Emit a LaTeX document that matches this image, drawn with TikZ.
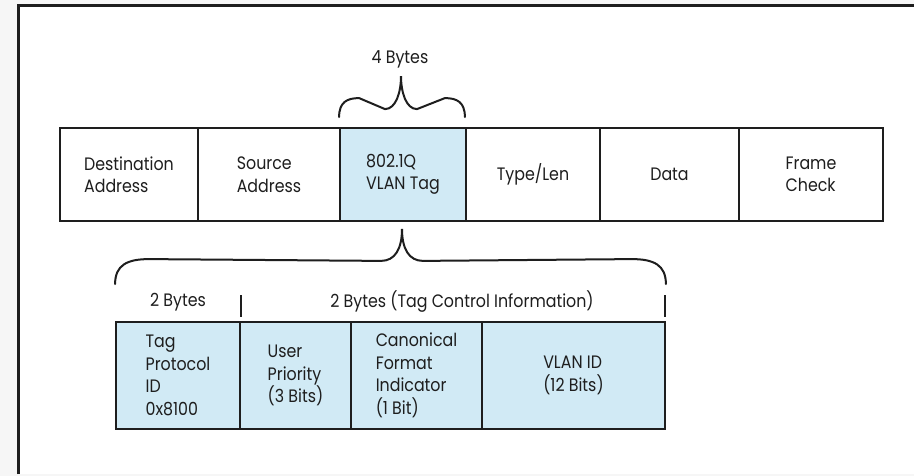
\documentclass[tikz,border=0pt]{standalone}
\usepackage{fontspec}
\setmainfont{Poppins}[FakeStretch=0.88]
\usetikzlibrary{calc}
\definecolor{tagblue}{RGB}{209,234,245}
\definecolor{ink}{RGB}{30,30,30}
\definecolor{bggray}{RGB}{246,246,246}
\begin{document}
\begin{tikzpicture}[x=1pt,y=-1pt,
  cell/.style={draw=ink, line width=1.8pt, align=left, font=\fontsize{18}{22.5}\selectfont, text=ink, inner sep=0pt, anchor=center},
  toprow/.style={cell, minimum height=93pt},
  botrow/.style={cell, minimum height=107pt, fill=tagblue},
  brace/.style={draw=ink, line width=2pt, line cap=round},
  lbl/.style={font=\fontsize{18}{22}\selectfont, text=ink, inner sep=0pt},
  tick/.style={draw=ink, line width=2pt}]
\useasboundingbox (0,0) rectangle (914,476);
\fill[bggray] (0,0) rectangle (914,476);
\fill[white] (18,6) rectangle (914,474);
\draw[ink, line width=3pt] (18,474) -- (18,6) -- (914,6);

% top row
\node[toprow, minimum width=138pt] (dst) at (129,174.5) {Destination\\Address};
\node[toprow, minimum width=142pt] (src) at (269,174.5) {Source\\Address};
\node[toprow, minimum width=126pt, fill=tagblue] (tag) at (403,174.5) {802.1Q\\VLAN Tag};
\node[toprow, minimum width=134pt] (typ) at (533,174.5) {Type/Len};
\node[toprow, minimum width=139pt] (dat) at (669.5,174.5) {Data};
\node[toprow, minimum width=144pt] (fcs) at (811,174.5) {Frame\\Check};

% bottom row
\node[botrow, minimum width=124pt] (tpi) at (178,375.5) {Tag\\Protocol\\ID\\0x8100};
\node[botrow, minimum width=111pt] (pri) at (295.5,375.5) {User\\Priority\\(3 Bits)};
\node[botrow, minimum width=131pt] (cfi) at (416.5,375.5) {Canonical\\Format\\Indicator\\(1 Bit)};
\node[botrow, minimum width=183pt] (vid) at (573.5,375.5) {VLAN ID\\(12 Bits)};

% labels
\node[lbl] (four) at (400,59) {4 Bytes};
\node[lbl] (twoa) at (178,302) {2 Bytes};
\node[lbl] (twob) at (462,302) {2 Bytes (Tag Control Information)};

% top brace
\coordinate (tl) at ($(tag.north west)+(0,-10)$);
\coordinate (tr) at ($(tag.north east)+(-2,-10)$);
\coordinate (tt) at ($(tag.north)+(-2,-51)$);
\draw[brace] (tl) .. controls ++(0,-15) and ++(-12,0) .. ++(20,-19) -- ($(tt)+(-16,33)$)
  .. controls ++(11,0) and ++(0,16) .. (tt)
  .. controls ++(0,16) and ++(-11,0) .. ($(tt)+(16,33)$) -- ($(tr)+(-20,-19)$)
  .. controls ++(12,0) and ++(0,-15) .. (tr);

% bottom brace
\coordinate (bl) at ($(tpi.north west)+(0,-37)$);
\coordinate (br) at ($(vid.north east)+(0,-37)$);
\coordinate (bt) at ($(tag.south)+(-1,7)$);
\draw[brace] (bl) .. controls ++(0,-19) and ++(-22,0) .. ++(34,-25) -- ($(bt)+(-21,32)$)
  .. controls ++(14,0) and ++(0,20) .. (bt)
  .. controls ++(0,20) and ++(-14,0) .. ($(bt)+(21,32)$) -- ($(br)+(-34,-25)$)
  .. controls ++(22,0) and ++(0,-19) .. (br);

% ticks
\draw[tick] ($(tpi.north east)+(0,-26)$) -- ($(tpi.north east)+(0,-4)$);
\draw[tick] ($(vid.north east)+(-1,-26)$) -- ($(vid.north east)+(-1,-4)$);
\end{tikzpicture}
\end{document}
